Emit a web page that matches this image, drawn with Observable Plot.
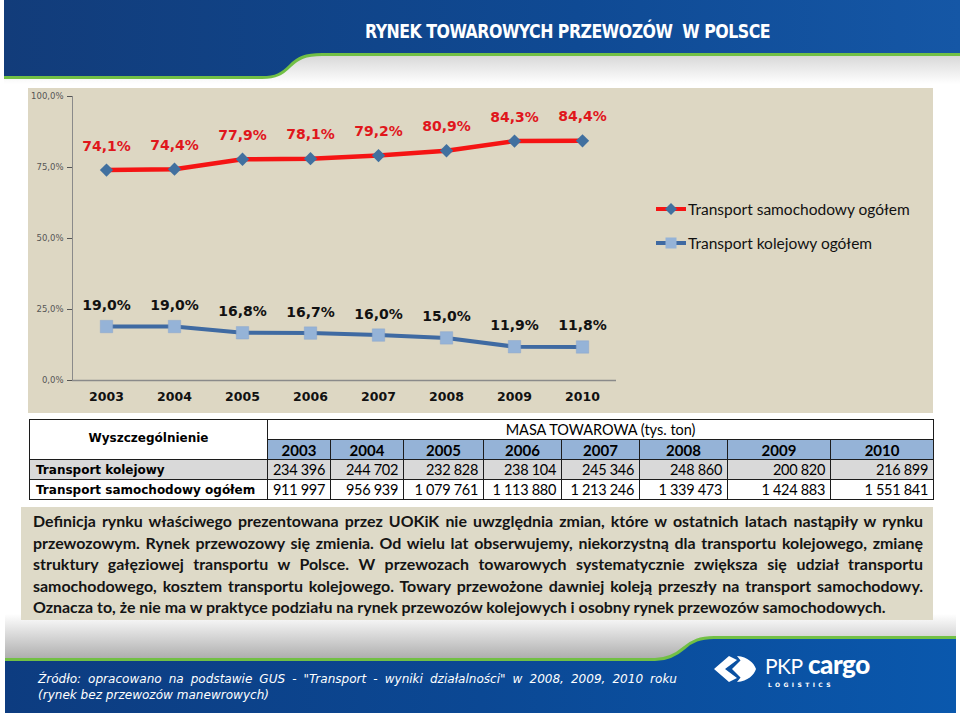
<!DOCTYPE html>
<html><head><meta charset="utf-8">
<script src="https://cdn.jsdelivr.net/npm/d3@7"></script>
<script src="https://cdn.jsdelivr.net/npm/@observablehq/plot@0.6"></script>
<style>
html,body{margin:0;padding:0;background:#fff;}
#page{position:relative;width:960px;height:716px;overflow:hidden;background:#fff;font-family:Lato,sans-serif;}
.abs{position:absolute;}
#title{left:365px;top:20px;color:#fff;font-family:"DejaVu Sans Condensed","DejaVu Sans",sans-serif;font-weight:bold;font-size:20px;line-height:23px;white-space:nowrap;transform-origin:0 0;letter-spacing:-0.6px;}
#chartbox{left:28px;top:88px;width:905px;height:325px;background:#ddd7c3;}
#plotwrap{left:28px;top:88px;}
.leg{left:656px;height:20px;display:flex;align-items:center;font-family:Lato,sans-serif;font-size:15.5px;color:#111;white-space:nowrap;}
.leg svg{margin-right:2px;}
#tbl{left:29px;top:419px;border-collapse:collapse;table-layout:fixed;width:904px;}
#tbl td{border:1px solid #1c1c1c;padding:0;height:19px;line-height:18px;overflow:hidden;white-space:nowrap;}
#tbl .lab{font-family:"DejaVu Sans",sans-serif;font-weight:bold;font-size:12px;padding-left:6px;}
#tbl .head{font-family:"DejaVu Sans",sans-serif;font-weight:bold;font-size:12px;text-align:center;}
#tbl .masa{font-family:Lato,sans-serif;font-size:14.5px;text-align:center;background:#fff;}
#tbl .yr{font-family:Lato,sans-serif;font-weight:bold;font-size:15px;text-align:center;background:#95b3d7;}
#tbl .val{font-family:Lato,sans-serif;font-size:14.5px;text-align:right;padding-right:5px;letter-spacing:-0.3px;}
#tbl tr.rail td{background:#d9d9d9;}
#textbox{left:21px;top:507px;width:912px;height:113px;background:#dedac8;}
.note{left:33px;white-space:nowrap;font-family:Lato,sans-serif;font-weight:bold;font-size:14px;line-height:18px;color:#141414;}
.src{left:38px;white-space:nowrap;font-family:"DejaVu Sans Condensed","DejaVu Sans",sans-serif;font-style:italic;font-size:12px;line-height:15px;color:#fff;transform-origin:0 0;}
</style></head>
<body><div id="page">
<svg class="abs" width="960" height="716" style="left:0;top:0">
  <defs>
    <linearGradient id="hdr" x1="0" x2="1" y1="0" y2="0">
      <stop offset="0" stop-color="#123c7a"/><stop offset="0.6" stop-color="#0f4a94"/><stop offset="1" stop-color="#1557a6"/>
    </linearGradient>
    <linearGradient id="ftr" x1="0" x2="1" y1="0" y2="0">
      <stop offset="0" stop-color="#0d3c80"/><stop offset="0.5" stop-color="#0b4894"/><stop offset="1" stop-color="#0a58ad"/>
    </linearGradient>
    <linearGradient id="shade" x1="0" x2="0" y1="0" y2="1">
      <stop offset="0" stop-color="#ffffff"/><stop offset="1" stop-color="#a8a8a8"/>
    </linearGradient>
    <linearGradient id="shade2" x1="0" x2="0" y1="0" y2="1">
      <stop offset="0" stop-color="#d6d6d6"/><stop offset="1" stop-color="#ffffff"/>
    </linearGradient>
  </defs>
  <rect x="4" y="54" width="956" height="30" fill="url(#shade2)"/>
  <path d="M4,0 H960 V54 H322 C305,54 298,58 290,66 C282,74 276,77 262,77 H4 Z" fill="url(#hdr)"/>
  <path d="M4,77.5 H262 C276,77.5 282,74 290,66 C298,58 305,54.5 322,54.5 H960" fill="none" stroke="#72c045" stroke-width="3"/>
  <rect x="5" y="614" width="951" height="48" fill="url(#shade)"/>
  <path d="M5,660 H655 C668,660 676,655 684,648 C692,641 700,638 714,638 H956 V713 H5 Z" fill="url(#ftr)"/>
  <path d="M5,659.5 H655 C668,659.5 676,655 684,648 C692,641 700,637.5 714,637.5 H956" fill="none" stroke="#72c045" stroke-width="3"/>
  <g fill="#fff">
    <path d="M714,669 L729,656 L737,660 L725,669 L737,678 L729,682 Z"/>
    <path d="M741,660 L750,669 L741,678 L732,669 Z"/>
    <path d="M737,656 C748,657 754,663 756,669 C754,675 748,681 737,682 L745,672 L747,669 L745,666 Z"/>
  </g>
  <text x="765" y="674" fill="#fff" font-family="Lato,sans-serif" font-size="21" letter-spacing="-0.5">PKP</text>
  <text x="808" y="674" fill="#fff" font-family="Lato,sans-serif" font-weight="900" font-size="26" letter-spacing="-0.5">cargo</text>
  <text x="768" y="687" fill="#fff" font-family="DejaVu Sans,sans-serif" font-weight="bold" font-size="6" letter-spacing="3.4">LOGISTICS</text>
</svg>
<div id="title" class="abs">RYNEK TOWAROWYCH PRZEWOZÓW&nbsp; W POLSCE</div>
<div id="chartbox" class="abs"></div>
<div id="plotwrap" class="abs"></div>
<div id="legend"></div>
<table id="tbl" class="abs"></table>
<div id="textbox" class="abs"></div>
<div id="notes"></div>
<div id="source"></div>
</div>
<script>
// ---- data ----
const years = ["2003","2004","2005","2006","2007","2008","2009","2010"];
const roadShare = [74.1, 74.4, 77.9, 78.1, 79.2, 80.9, 84.3, 84.4];
const railShare = [19.0, 19.0, 16.8, 16.7, 16.0, 15.0, 11.9, 11.8];
const yTicks = [0, 25, 50, 75, 100];
const seriesNames = ["Transport samochodowy ogółem", "Transport kolejowy ogółem"];
const tableRowLabels = ["Transport kolejowy", "Transport samochodowy ogółem"];
const railTonnes = [234396, 244702, 232828, 238104, 245346, 248860, 200820, 216899];
const roadTonnes = [911997, 956939, 1079761, 1113880, 1213246, 1339473, 1424883, 1551841];
const tableHeader = "Wyszczególnienie";
const tableGroup = "MASA TOWAROWA (tys. ton)";
const noteLines = [
  "Definicja rynku właściwego prezentowana przez UOKiK nie uwzględnia zmian, które w ostatnich latach nastąpiły w rynku",
  "przewozowym. Rynek przewozowy się zmienia. Od wielu lat obserwujemy, niekorzystną dla transportu kolejowego, zmianę",
  "struktury gałęziowej transportu w Polsce. W przewozach towarowych systematycznie zwiększa się udział transportu",
  "samochodowego, kosztem transportu kolejowego. Towary przewożone dawniej koleją przeszły na transport samochodowy.",
  "Oznacza to, że nie ma w praktyce podziału na rynek przewozów kolejowych i osobny rynek przewozów samochodowych."
];
const sourceLines = [
  "Źródło: opracowano na podstawie GUS - \"Transport - wyniki działalności\" w 2008, 2009, 2010 roku",
  "(rynek bez przewozów manewrowych)"
];

// ---- styles ----
const RED = "#f51414", RED_TXT = "#e0161c", BLUE = "#3f6aa2", DIAMOND = "#41709f", SQUARE = "#95b3d7";
const pct = v => v.toFixed(1).replace(".", ",") + "%";

const rows = years.map((y, i) => ({year: y, road: roadShare[i], rail: railShare[i]}));

const chart = Plot.plot({
  width: 905, height: 325,
  marginLeft: 44, marginRight: 317, marginTop: 8, marginBottom: 33,
  style: {background: "transparent", fontFamily: "DejaVu Sans, sans-serif", overflow: "visible"},
  x: {type: "point", domain: years, padding: 0.5, label: null},
  y: {domain: [0, 100], label: null},
  marks: [
    Plot.ruleY([0], {stroke: "#8a8a8a", strokeWidth: 1.5}),
    Plot.ruleX([years[0]], {dx: -34, y1: 0, y2: 100, stroke: "#8a8a8a", strokeWidth: 1}),
    Plot.axisY({ticks: yTicks, tickFormat: pct, tickSize: 5, tickPadding: 4, fontSize: 8.5, color: "#555", label: null}),
    Plot.axisX({tickSize: 0, tickPadding: 12, fontSize: 12.5, fontWeight: "bold", color: "#111", label: null}),
    Plot.line(rows, {x: "year", y: "road", stroke: RED, strokeWidth: 4.5}),
    Plot.dot(rows, {x: "year", y: "road", symbol: "diamond2", fill: DIAMOND, stroke: "none", r: 6}),
    Plot.text(rows, {x: "year", y: "road", text: d => pct(d.road), dy: -24, fill: RED_TXT, fontWeight: "bold", fontSize: 14}),
    Plot.line(rows, {x: "year", y: "rail", stroke: BLUE, strokeWidth: 4}),
    Plot.dot(rows, {x: "year", y: "rail", symbol: "square", fill: SQUARE, stroke: "#8aa6cc", strokeWidth: 0.5, r: 7}),
    Plot.text(rows, {x: "year", y: "rail", text: d => pct(d.rail), dy: -21, fill: "#111", fontWeight: "bold", fontSize: 14})
  ]
});
document.getElementById("plotwrap").appendChild(chart);

// ---- legend ----
const legend = document.getElementById("legend");
seriesNames.forEach((name, i) => {
  const d = document.createElement("div");
  d.className = "leg abs";
  d.style.top = (i === 0 ? 199 : 233) + "px";
  const glyph = i === 0
    ? `<svg width="30" height="14"><line x1="0" y1="7" x2="30" y2="7" stroke="${RED}" stroke-width="4"/><path d="M15,1 L21,7 L15,13 L9,7 Z" fill="${DIAMOND}"/></svg>`
    : `<svg width="30" height="14"><line x1="0" y1="7" x2="30" y2="7" stroke="${BLUE}" stroke-width="4"/><rect x="9.5" y="1.5" width="11" height="11" fill="${SQUARE}"/></svg>`;
  d.innerHTML = glyph + `<span>${name}</span>`;
  legend.appendChild(d);
});

// ---- table ----
const colW = [238, 63, 73, 80, 78, 78, 88, 103, 103];
const fmtT = v => d3.format(",")(v).replace(/,/g, "\u00a0");
const tbl = document.getElementById("tbl");
let html = "<colgroup>" + colW.map(w => `<col style="width:${w}px">`).join("") + "</colgroup>";
html += `<tr><td class="head" rowspan="2" style="vertical-align:top;padding-top:9px;">${tableHeader}</td><td class="masa" colspan="${years.length}">${tableGroup}</td></tr>`;
html += "<tr>" + years.map(y => `<td class="yr">${y}</td>`).join("") + "</tr>";
[railTonnes, roadTonnes].forEach((arr, r) => {
  html += `<tr class="${r === 0 ? "rail" : "road"}"><td class="lab">${tableRowLabels[r]}</td>` + arr.map(v => `<td class="val">${fmtT(v)}</td>`).join("") + "</tr>";
});
tbl.innerHTML = html;

// ---- notes (justified lines) ----
const notes = document.getElementById("notes");
const noteEls = noteLines.map((t, i) => {
  const d = document.createElement("div");
  d.className = "note abs";
  d.style.top = (512 + i * 21.6) + "px";
  d.textContent = t;
  notes.appendChild(d);
  return d;
});
const lastTarget = 853, fullTarget = 890;
const w5 = noteEls[4].getBoundingClientRect().width;
const fs = 14 * lastTarget / w5;
noteEls.forEach(el => el.style.fontSize = fs + "px");
noteEls.slice(0, 4).forEach(el => {
  const w = el.getBoundingClientRect().width;
  const spaces = (el.textContent.match(/ /g) || []).length;
  el.style.wordSpacing = ((fullTarget - w) / spaces) + "px";
});

// ---- source ----
const src = document.getElementById("source");
const srcEls = sourceLines.map((t, i) => {
  const d = document.createElement("div");
  d.className = "src abs";
  d.style.top = (672 + i * 15.5) + "px";
  d.textContent = t;
  src.appendChild(d);
  return d;
});
const w2 = srcEls[1].getBoundingClientRect().width;
const sx = 231 / w2;
srcEls.forEach(el => el.style.transform = `scaleX(${sx})`);
{
  const el = srcEls[0];
  const w = el.getBoundingClientRect().width;
  const spaces = (el.textContent.match(/ /g) || []).length;
  el.style.wordSpacing = ((639 - w) / sx / spaces) + "px";
}

// ---- title fit ----
const title = document.getElementById("title");
const tw = title.getBoundingClientRect().width;
title.style.transform = `scaleX(${405 / tw})`;
</script>
</body></html>
